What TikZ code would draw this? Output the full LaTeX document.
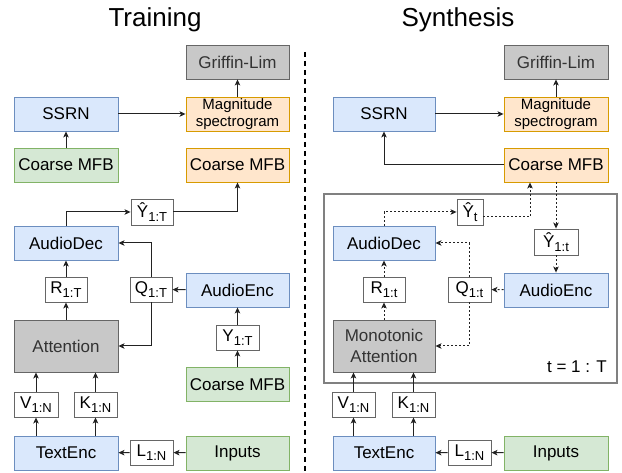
\documentclass[tikz,border=0pt]{standalone}
\usepackage{fontspec}
\setmainfont{Liberation Sans}
\usetikzlibrary{arrows.meta}
\definecolor{bfill}{HTML}{DAE8FC}
\definecolor{bdraw}{HTML}{6C8EBF}
\definecolor{gfill}{HTML}{D5E8D4}
\definecolor{gdraw}{HTML}{82B366}
\definecolor{ofill}{HTML}{FFE6CC}
\definecolor{odraw}{HTML}{D79B00}
\definecolor{kfill}{HTML}{C8C8C8}
\definecolor{kdraw}{HTML}{666666}
\definecolor{ktext}{HTML}{333333}
\definecolor{labdraw}{HTML}{666666}
\definecolor{framec}{HTML}{808080}
\definecolor{linec}{HTML}{222222}
\newcommand{\lsub}[1]{\raisebox{-4pt}{\fontsize{13}{13}\selectfont #1}}
\begin{document}
\begin{tikzpicture}[x=1pt,y=-1pt,
  box/.style={draw, line width=0.9pt, minimum width=104pt, minimum height=34pt, inner sep=0pt,
    font=\fontsize{17}{19}\selectfont, align=center},
  bluebox/.style={box, fill=bfill, draw=bdraw},
  greenbox/.style={box, fill=gfill, draw=gdraw},
  orangebox/.style={box, fill=ofill, draw=odraw},
  graybox/.style={box, fill=kfill, draw=kdraw, text=ktext},
  lab/.style={draw=labdraw, fill=white, line width=0.9pt, minimum height=25pt, minimum width=42pt,
    inner sep=1.5pt, font=\fontsize{17}{19}\selectfont},
  arr/.style={-{Stealth[length=6pt,width=5.5pt,inset=1.5pt]}, line width=1pt, draw=linec},
  darr/.style={arr, dash pattern=on 2pt off 2pt},
  divider/.style={line width=1.3pt, dash pattern=on 5pt off 4pt, draw=black},
  titlef/.style={font=\fontsize{26}{30}\selectfont, anchor=base}
]
\useasboundingbox (0,0) rectangle (622,473);

% titles and divider
\node[titlef] (tTrain) at (155,27) {Training};
\node[titlef] (tSyn) at (458,27) {Synthesis};
\coordinate (dtop) at (305,52);
\coordinate (dbot) at (305,472);
\draw[divider] (dtop) -- (dbot);

% ---------------- Training ----------------
\node[graybox, minimum width=103pt] (grifL) at (237.5,62) {Griffin-Lim};
\node[bluebox] (ssrnL) at (66,114) {SSRN};
\node[orangebox, minimum width=103pt, font=\fontsize{15}{17}\selectfont] (magL) at (237.5,114) {Magnitude\\spectrogram};
\node[greenbox] (cmfbGL) at (66,165) {Coarse MFB};
\node[orangebox, minimum width=103pt] (cmfbOL) at (237.5,165) {Coarse MFB};
\node[lab, minimum height=26pt] (yhatL) at (152,212) {Ŷ\lsub{1:T}};
\node[bluebox] (decL) at (66,243) {AudioDec};
\node[lab] (rL) at (66,289.5) {R\lsub{1:T}};
\node[lab] (qL) at (151,289.5) {Q\lsub{1:T}};
\node[bluebox, minimum width=103pt] (encL) at (237.5,290) {AudioEnc};
\node[graybox, minimum height=52pt] (attL) at (66,346) {Attention};
\node[lab, minimum width=43pt] (yL) at (237.5,337.5) {Y\lsub{1:T}};
\node[greenbox, minimum width=103pt] (cmfbG2L) at (237.5,384.5) {Coarse MFB};
\node[lab, minimum width=44pt] (vL) at (36,404.5) {V\lsub{1:N}};
\node[lab, minimum width=43pt] (kL) at (95.5,404.5) {K\lsub{1:N}};
\node[bluebox] (teL) at (66,453) {TextEnc};
\node[lab, minimum width=43pt] (lL) at (151.5,452.5) {L\lsub{1:N}};
\node[greenbox, minimum width=103pt] (inL) at (237.5,453) {Inputs};

\draw[arr] (cmfbGL) -- (ssrnL);
\draw[arr] (ssrnL) -- (magL);
\draw[arr] (magL) -- (grifL);
\draw[arr] (decL.north) |- (yhatL.west);
\draw[arr] (yhatL.east) -| (cmfbOL.south);
\draw[arr] (attL) -- (rL);
\draw[arr] (rL) -- (decL);
\draw[arr] (encL) -- (qL);
\draw[arr] (qL.north) |- (decL.east);
\draw[arr] (qL.south) |- (attL.east);
\draw[arr] (cmfbG2L) -- (yL);
\draw[arr] (yL) -- (encL);
\draw[arr] (teL.north -| vL) -- (vL);
\draw[arr] (vL) -- (attL.south -| vL);
\draw[arr] (teL.north -| kL) -- (kL);
\draw[arr] (kL) -- (attL.south -| kL);
\draw[arr] (inL) -- (lL);
\draw[arr] (lL) -- (teL);

% ---------------- Synthesis ----------------
\node[draw=framec, line width=2pt, minimum width=293pt, minimum height=189pt, inner sep=0pt] (loop) at (470.5,288.5) {};
\node[graybox] (grifR) at (556,62) {Griffin-Lim};
\node[bluebox, minimum width=102pt] (ssrnR) at (384,114) {SSRN};
\node[orangebox, font=\fontsize{15}{17}\selectfont] (magR) at (556,114) {Magnitude\\spectrogram};
\node[orangebox] (cmfbOR) at (556,165) {Coarse MFB};
\node[lab, minimum width=26pt, minimum height=26pt] (yhatR) at (470,212) {Ŷ\lsub{t}};
\node[lab, minimum width=44pt, minimum height=26pt] (yhat1tR) at (556,242) {Ŷ\lsub{1:t}};
\node[bluebox, minimum width=102pt] (decR) at (384,243) {AudioDec};
\node[lab] (rR) at (384,289.5) {R\lsub{1:t}};
\node[lab, minimum width=43pt] (qR) at (469.5,289.5) {Q\lsub{1:t}};
\node[bluebox] (encR) at (556,290) {AudioEnc};
\node[graybox, minimum width=102pt, minimum height=52pt, font=\fontsize{17}{21}\selectfont] (attR) at (384,346) {Monotonic\\Attention};
\node[anchor=base east, font=\fontsize{17}{19}\selectfont, inner sep=0pt] (tlab) at (607,373) {t = 1 : T};
\node[lab, minimum width=43pt] (vR) at (353.5,404.5) {V\lsub{1:N}};
\node[lab, minimum width=43pt] (kR) at (413.5,404.5) {K\lsub{1:N}};
\node[bluebox, minimum width=102pt] (teR) at (384,453) {TextEnc};
\node[lab, minimum width=43pt] (lR) at (469.5,452.5) {L\lsub{1:N}};
\node[greenbox] (inR) at (556,453) {Inputs};

\draw[arr] (cmfbOR.west) -| (ssrnR.south);
\draw[arr] (ssrnR) -- (magR);
\draw[arr] (magR) -- (grifR);
\draw[darr] (decR.north) |- (yhatR.west);
\draw[darr] ([yshift=-5pt]yhatR.east) -| ([xshift=-26pt]cmfbOR.south);
\draw[darr] (cmfbOR) -- (yhat1tR);
\draw[darr] (yhat1tR) -- (encR);
\draw[darr] (encR) -- (qR);
\draw[darr] (qR.north) |- (decR.east);
\draw[darr] (qR.south) |- (attR.east);
\draw[darr] (attR) -- (rR);
\draw[darr] (rR) -- (decR);
\draw[arr] (teR.north -| vR) -- (vR);
\draw[arr] (vR) -- (attR.south -| vR);
\draw[arr] (teR.north -| kR) -- (kR);
\draw[arr] (kR) -- (attR.south -| kR);
\draw[arr] (inR) -- (lR);
\draw[arr] (lR) -- (teR);
\end{tikzpicture}
\end{document}
